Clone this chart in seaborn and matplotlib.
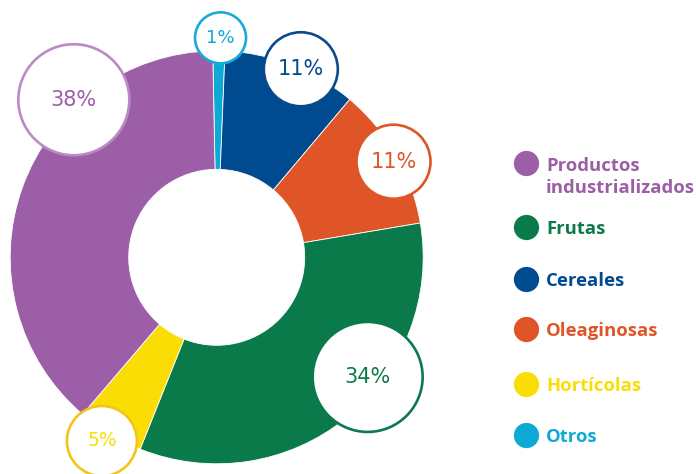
import numpy as np
import matplotlib
matplotlib.use("Agg")
from matplotlib import pyplot as plt
from matplotlib.patches import Circle
import seaborn as sns

# data (clockwise from top), shares
categories = ['Otros', 'Cereales', 'Oleaginosas', 'Frutas', 'Hortícolas', 'Productos\nindustrializados']
shares = [0.95, 10.5, 11.2, 33.7, 5.2, 38.45]
labels = ['1%', '11%', '11%', '34%', '5%', '38%']
colors = ['#0EAAD6', '#004A8F', '#E05527', '#0B7A4B', '#F9DD05', '#9B5EA7']
edge_colors = ['#1AAAD8', '#0A4A8C', '#E05527', '#0B7A4B', '#F2C518', '#B98BC4']

legend_order = ['Productos\nindustrializados', 'Frutas', 'Cereales', 'Oleaginosas', 'Hortícolas', 'Otros']

# label bubble layout: angle (deg), distance from centre, bubble radius (px)
bubble_angle = [89, 65.9, 28.4, -38.4, -122, 132.2]
bubble_dist = [219.5, 206, 201, 192.6, 216.6, 212.7]
bubble_r = [25.5, 37, 37, 55, 35, 55.5]
bubble_fs = [13, 15, 15, 15, 13.5, 15]

sns.set_style("white")
plt.rcParams['font.family'] = ['DejaVu Sans']

fig = plt.figure(figsize=(6.96, 4.74), dpi=100)
ax = fig.add_axes([0, 0, 1, 1])

cx, cy = 216.7, 474 - 257.3
R, hole = 206.5, 88
ax.pie(shares, colors=colors, startangle=91.1, counterclock=False,
       center=(cx, cy), radius=R,
       wedgeprops=dict(width=R - hole, edgecolor='white', linewidth=0.6))

for i, lab in enumerate(labels):
    a = np.deg2rad(bubble_angle[i])
    x = cx + bubble_dist[i] * np.cos(a)
    y = cy + bubble_dist[i] * np.sin(a)
    ax.add_patch(Circle((x, y), bubble_r[i], facecolor='white',
                        edgecolor=edge_colors[i], linewidth=1.9, zorder=5))
    ax.text(x, y, lab, ha='center', va='center', color=colors[i],
            fontsize=bubble_fs[i], zorder=6)

# legend drawn by hand; baseline of a multi-line text is its last line
leg_fs, leg_ls = 13.3, 1.25
line_px = leg_fs * leg_ls * 100 / 72
leg_y = [163, 227, 279, 329, 384, 435]
for name, yy in zip(legend_order, leg_y):
    c = colors[categories.index(name)]
    extra = name.count('\n') * line_px
    ax.scatter([526], [474 - yy], s=330, color=c, zorder=5, linewidths=0)
    ax.text(546, 474 - yy - 6.8 - extra, name, ha='left', va='baseline', color=c,
            fontsize=leg_fs, fontweight='bold', family='Open Sans', linespacing=leg_ls)

ax.set_xlim(0, 696)
ax.set_ylim(0, 474)
ax.set_aspect('equal')
ax.axis('off')

fig.savefig('out.png', dpi=100)
